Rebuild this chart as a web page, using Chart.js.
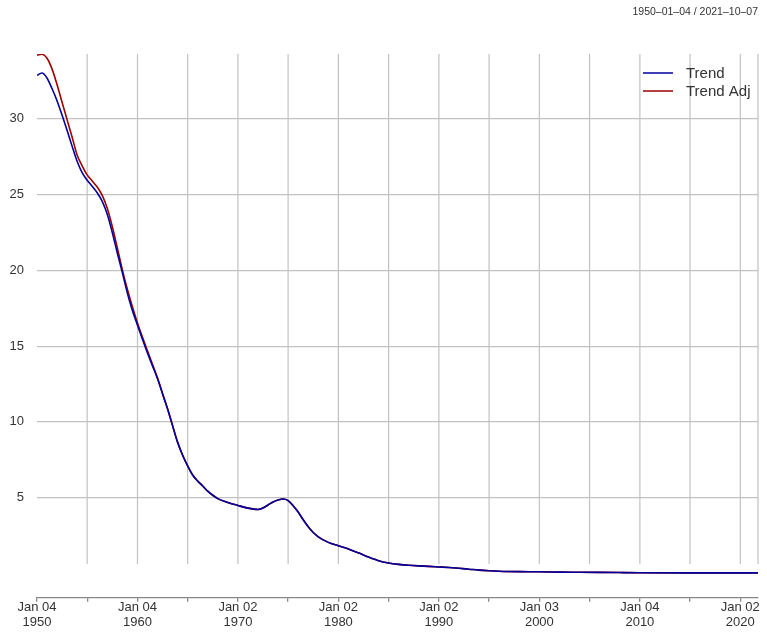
<!DOCTYPE html>
<html><head><meta charset="utf-8">
<script src="https://cdn.jsdelivr.net/npm/chart.js@4"></script>
<style>html,body{margin:0;padding:0;background:#fff;}</style>
</head><body>
<canvas id="c" width="767" height="634"></canvas>
<script>
// ---- data ----
const years = [
  1950.01,1950.5,1951,1951.5,1952,1952.5,1953,1953.5,1954,1954.5,1955,1955.5,1956,1956.5,1957,1957.5,1958,1958.5,1959,1959.5,
  1960,1960.5,1961,1961.5,1962,1962.5,1963,1963.5,1964,1964.5,1965,1965.5,1966,1966.5,1967,1967.5,
  1968,1969,1970,1971,1972,1972.5,1973,1973.5,1974,1974.5,1975,1975.5,1976,1976.5,1977,1977.5,1978,1979,1980,
  1981,1982,1983,1984,1985,1986,1987,1988,1989,1990,1991,1992,1993,1994,1995,1996,1998,2000,2002,2004,2006,2008,2010,2015,2021.76
];
const trend = [
  32.87,33.03,32.7,32.0,31.2,30.25,29.25,28.2,27.2,26.45,25.95,25.55,25.12,24.55,23.7,22.5,21.15,19.85,18.5,17.35,
  16.4,15.45,14.55,13.7,12.85,11.85,10.85,9.75,8.65,7.8,7.1,6.5,6.1,5.77,5.43,5.16,
  4.94,4.69,4.49,4.31,4.22,4.32,4.52,4.72,4.85,4.91,4.81,4.47,4.05,3.54,3.08,2.7,2.42,2.05,1.83,
  1.62,1.36,1.08,0.84,0.69,0.6,0.54,0.5,0.47,0.43,0.39,0.34,0.28,0.22,0.18,0.15,0.12,0.11,0.09,0.08,0.07,0.06,0.05,0.04,0.04
];
const trendAdj = [
  34.2,34.26,34.0,33.3,32.27,31.1,29.95,28.8,27.62,26.9,26.3,25.9,25.5,24.95,24.1,22.9,21.5,20.05,18.75,17.6,
  16.55,15.6,14.7,13.8,12.92,11.9,10.88,9.77,8.67,7.81,7.1,6.5,6.1,5.77,5.43,5.16,
  4.94,4.69,4.49,4.31,4.22,4.32,4.52,4.72,4.85,4.91,4.81,4.47,4.05,3.54,3.08,2.7,2.42,2.05,1.83,
  1.62,1.36,1.08,0.84,0.69,0.6,0.54,0.5,0.47,0.43,0.39,0.34,0.28,0.22,0.18,0.15,0.12,0.11,0.09,0.08,0.07,0.06,0.05,0.04,0.04
];
const seriesNames = ['Trend', 'Trend Adj'];
const xTickValues = [1950.008,1955,1960.008,1965,1970.003,1975,1980.003,1985,1990.003,1995,2000.005,2005,2010.008,2015,2020.003];
const xTickLabels = [['Jan 04','1950'],'',['Jan 04','1960'],'',['Jan 02','1970'],'',['Jan 02','1980'],'',['Jan 02','1990'],'',['Jan 03','2000'],'',['Jan 04','2010'],'',['Jan 02','2020']];
const yTickValues = [5,10,15,20,25,30];
const rangeLabel = '1950\u201301\u201304 / 2021\u201310\u201307';
const xMin = 1950.008, xMax = 2021.764;

// ---- styling ----
const FONT = '"Liberation Sans", Arial, Helvetica, sans-serif';
const TEXT = '#333333';
const GRID = '#c2c2c2';

const vGridPlugin = {
  id: 'vGrid',
  beforeDatasetsDraw(chart, args, opts) {
    const {ctx, chartArea} = chart;
    const xs = chart.scales.x, ys = chart.scales.y;
    const yBot = ys.getPixelForValue(opts.bottomValue);
    ctx.save();
    ctx.strokeStyle = opts.color;
    ctx.lineWidth = opts.width;
    opts.values.forEach(v => {
      const px = xs.getPixelForValue(v);
      ctx.beginPath();
      ctx.moveTo(px, chartArea.top);
      ctx.lineTo(px, yBot);
      ctx.stroke();
    });
    ctx.restore();
  }
};

const legendPlugin = {
  id: 'insideLegend',
  afterDatasetsDraw(chart, args, opts) {
    const {ctx, chartArea} = chart;
    ctx.save();
    ctx.font = opts.fontSize + 'px ' + FONT;
    ctx.textBaseline = 'middle';
    ctx.textAlign = 'left';
    chart.data.datasets.forEach((ds, i) => {
      const y = chartArea.top + opts.top + i * opts.rowGap;
      const x0 = chartArea.right - opts.right;
      ctx.strokeStyle = ds.borderColor;
      ctx.lineWidth = 1.5;
      ctx.beginPath();
      ctx.moveTo(x0, y);
      ctx.lineTo(x0 + opts.lineLen, y);
      ctx.stroke();
      ctx.fillStyle = TEXT;
      ctx.fillText(ds.label, x0 + opts.textGap, y + 1);
    });
    ctx.restore();
  }
};

const toXY = arr => years.map((x, i) => ({x, y: arr[i]}));

new Chart(document.getElementById('c'), {
  type: 'line',
  data: {
    datasets: [
      {label: seriesNames[0], data: toXY(trend), borderColor: '#00009c', borderWidth: 1.6,
       pointRadius: 0, cubicInterpolationMode: 'monotone', fill: false},
      {label: seriesNames[1], data: toXY(trendAdj), borderColor: '#9c0000', borderWidth: 1.6,
       pointRadius: 0, cubicInterpolationMode: 'monotone', fill: false}
    ]
  },
  options: {
    responsive: false,
    animation: false,
    events: [],
    layout: {padding: {left: 0, right: 9, top: 0, bottom: 6}},
    plugins: {
      legend: {display: false},
      tooltip: {enabled: false},
      title: {
        display: true, text: rangeLabel, align: 'end', color: TEXT,
        font: {family: FONT, size: 10.5, weight: 'normal', lineHeight: 1.2},
        padding: {top: 6.2, bottom: 35.2}
      },
      vGrid: {values: xTickValues.slice(1).concat([xMax]), bottomValue: 0.63, color: GRID, width: 1.2},
      insideLegend: {top: 19, rowGap: 18, right: 115, lineLen: 30, textGap: 43, fontSize: 15}
    },
    scales: {
      x: {
        type: 'linear', min: xMin, max: xMax,
        afterBuildTicks: s => { s.ticks = xTickValues.map(v => ({value: v})); },
        ticks: {
          autoSkip: false, maxRotation: 0, minRotation: 0, padding: -1.8, color: TEXT,
          font: {family: FONT, size: 13, lineHeight: 1.15},
          callback: (v, i) => xTickLabels[i]
        },
        grid: {display: true, drawOnChartArea: false, drawTicks: true, tickLength: 4, color: '#888', lineWidth: 1.3},
        border: {display: true, color: '#888', width: 1.3}
      },
      y: {
        type: 'linear', min: -1.6, max: 34.28,
        afterBuildTicks: s => { s.ticks = yTickValues.map(v => ({value: v})); },
        afterFit: s => { s.width = 37; },
        ticks: {padding: 13, color: TEXT, font: {family: FONT, size: 13}},
        grid: {color: GRID, lineWidth: 1.2, drawTicks: false},
        border: {display: false}
      }
    }
  },
  plugins: [vGridPlugin, legendPlugin]
});
</script>
</body></html>
